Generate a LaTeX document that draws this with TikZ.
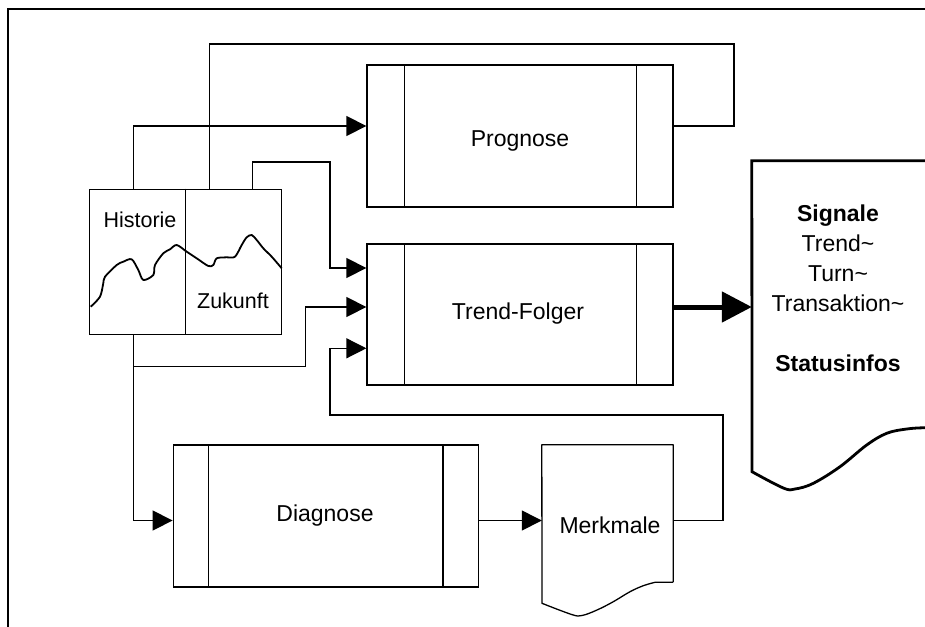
\documentclass[tikz,border=0pt]{standalone}
\usepackage{fontspec}
\setmainfont{Liberation Sans}
\usetikzlibrary{arrows.meta}
\begin{document}
\begin{tikzpicture}[x=1pt,y=-1pt,
  ln/.style={line width=1.3pt},
  procbox/.style={draw,line width=1.3pt,inner sep=0pt,minimum width=306pt,minimum height=142pt},
  lbl/.style={font=\fontsize{23}{30}\selectfont,inner sep=0pt},
  hl/.style={font=\fontsize{21.5}{26}\selectfont,inner sep=0pt},
  arr/.style={line width=1.3pt,-{Triangle[length=20pt,width=20pt]}},
  conn/.style={line width=1.3pt},
  bigarr/.style={line width=5pt,-{Triangle[length=30pt,width=30pt]}}]
\useasboundingbox (0,0) rectangle (925,626);
% frame
\draw[ln] (8,640) -- (8,9) -- (940,9);

% process boxes
\node[procbox] (prog) at (520,136) {};
\node[lbl] (progt) at (520,141) {Prognose};
\draw[ln] ([xshift=38pt]prog.north west) -- ([xshift=38pt]prog.south west);
\draw[ln] ([xshift=-37pt]prog.north east) -- ([xshift=-37pt]prog.south east);

\node[procbox,minimum height=141pt] (trend) at (520,314.5) {};
\node[lbl] (trendt) at (518,314) {Trend-Folger};
\draw[ln] ([xshift=38pt]trend.north west) -- ([xshift=38pt]trend.south west);
\draw[ln] ([xshift=-37pt]trend.north east) -- ([xshift=-37pt]trend.south east);

\node[procbox,minimum width=305pt] (diag) at (325.75,516) {};
\node[lbl] (diagt) at (325,515.5) {Diagnose};
\draw[ln] ([xshift=36pt]diag.north west) -- ([xshift=36pt]diag.south west);
\draw[ln] ([xshift=-36pt]diag.north east) -- ([xshift=-36pt]diag.south east);

% Merkmale document
\node[inner sep=0pt,minimum width=131pt,minimum height=137pt] (merk) at (607.5,513.5) {};
\draw[ln,line join=round] (merk.south east) -- (merk.north east) -- (merk.north west)
  -- plot[smooth,tension=0.6] coordinates {(542,603.3) (571.7,614.5) (582,615.5) (597,610) (613.3,601.7) (630,591.7) (643.3,585.7) (655,582.3)}
  -- (merk.south east);
\node[lbl] (merkt) at (610,525) {Merkmale};

% Signale document
\node[inner sep=0pt,minimum width=190pt,minimum height=267pt] (sig) at (847,294.5) {};
\draw[line width=2.8pt] ([xshift=20pt]sig.north east) -- (sig.north west)
  -- plot[smooth,tension=0.6] coordinates {(752,471.7) (783.3,488) (795,489) (813.3,483.3) (840,466.7) (866.7,445) (886.7,433.3) (906.7,429) (925,427.7) (945,427.5)};
\node[lbl,align=center] (sigt) at (838,288) {\textbf{Signale}\\Trend\textasciitilde\\Turn\textasciitilde\\Transaktion\textasciitilde\\[30pt]\textbf{Statusinfos}};

% Historie / Zukunft
\node[draw,ln,inner sep=0pt,minimum width=192.4pt,minimum height=145pt] (hist) at (185.5,261.8) {};
\draw[ln] ([xshift=96.7pt]hist.north west) -- ([xshift=96.7pt]hist.south west);
\node[hl] (histt) at (140,220) {Historie};
\node[hl] (zukt) at (233,301) {Zukunft};
\draw[line width=1.8pt,line join=round] plot[smooth,tension=0.5] coordinates {
 (90.7,306.7) (100,296.7) (103.3,283.3) (105,276.7) (116.7,265) (123.3,261.7) (131.7,259.3)
 (138.3,270) (143.3,280) (153.3,275) (155,265) (163.3,253.3) (170,249.3) (176.7,245)
 (186.7,251.7) (196.7,258.3) (208.3,266) (213.3,265) (216.7,258.3) (226.7,257.3) (235,256.7)
 (241.7,245) (246.7,237.3) (251.7,235) (256.7,240) (263.3,248.3) (271.7,256.7) (281.7,268.3)};

% connectors
\coordinate (c2a) at (734,44);
\coordinate (c3a) at (330,162);
\coordinate (c4a) at (305.8,366.7);
\coordinate (c6a) at (723,415);
\coordinate (c6b) at (330,348.3);
\coordinate (d1) at ([yshift=-4.5pt]diag.east);
\coordinate (m1) at ([yshift=-7pt]merk.east);
\coordinate (t1) at ([yshift=7.5pt]trend.east);

\draw[arr] ([xshift=44.5pt]hist.north west) |- ([yshift=10pt]prog.west);
\draw[conn] ([yshift=10pt]prog.east) -| (c2a) -| ([xshift=121pt]hist.north west);
\draw[arr] ([xshift=164pt]hist.north west) |- (c3a) |- ([yshift=46.5pt]trend.west);
\draw[arr] ([xshift=44.5pt]hist.south west) |- (c4a) |- ([yshift=7.5pt]trend.west);
\draw[arr] ([xshift=44.5pt]hist.south west) |- ([yshift=-4.5pt]diag.west);
\draw[arr] (d1) -- (d1 -| merk.west);
\draw[arr] (m1) -| (c6a) -| (c6b) -- (c6b -| trend.west);
\draw[bigarr] (t1) -- (t1 -| sig.west);
\end{tikzpicture}
\end{document}
